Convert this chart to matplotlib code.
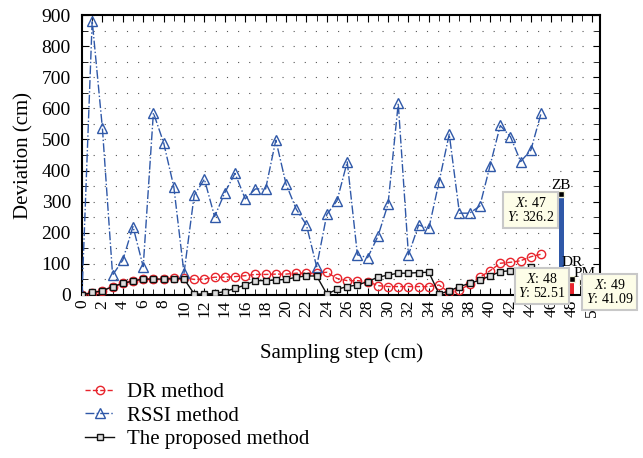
import matplotlib
matplotlib.use('Agg')
import matplotlib.pyplot as plt
import numpy as np

plt.rcParams['font.family'] = ['Liberation Serif', 'DejaVu Serif']
plt.rcParams['mathtext.fontset'] = 'custom'
plt.rcParams['mathtext.rm'] = 'Liberation Serif'
plt.rcParams['mathtext.it'] = 'Liberation Serif:italic'

# 데이터
rssi = [0, 882, 537, 64, 112, 220, 91, 586, 490, 348, 70,
        321, 372, 252, 329, 391, 309, 341, 341, 498, 357,
        276, 225, 91, 259, 303, 428, 129, 120, 188, 292,
        616, 129, 225, 214, 364, 517, 263, 263, 286, 416,
        545, 509, 429, 466, 584]
dr = [0, 6, 14, 27, 37, 45, 51, 51, 51, 55, 55,
      50, 51, 57, 57, 59, 62, 66, 66, 67, 67,
      70, 70, 70, 73, 53, 46, 46, 43, 30, 27,
      27, 27, 27, 27, 32, 8, 16, 34, 57, 78,
      102, 105, 110, 123, 131]
prop = [0, 8, 13, 27, 37, 45, 51, 51, 51, 52, 52,
        3, 3, 5, 11, 21, 32, 46, 46, 48, 50,
        57, 61, 61, 3, 18, 27, 32, 43, 57, 64,
        70, 70, 72, 73, 3, 13, 27, 37, 48, 61,
        75, 78, 80, 89]
bar_x = [47, 48, 49]
bar_y = [326.2, 52.51, 41.09]
bar_names = ['ZB', 'DR', 'PM']
bar_colors = ['#2f58a8', '#e8242c', '#111111']

fig = plt.figure(figsize=(6.43, 4.58), dpi=100)
ax = fig.add_axes([0.1275, 0.356, 0.806, 0.611])

ax.plot(range(len(dr)), dr, '--', color='#e8242c', marker='o', mfc='none',
        ms=6, lw=1, label='DR method', zorder=3)
ax.plot(range(len(rssi)), rssi, '-.', color='#2f58a8', marker='^', mfc='none',
        ms=7, lw=1, label='RSSI method', zorder=3)
ax.plot(range(len(prop)), prop, '-', color='#111111', marker='s', mfc='#dddddd',
        ms=5, lw=1, label='The proposed method', zorder=4)

ax.bar(bar_x, bar_y, width=[0.55, 0.42, 0.42], color=bar_colors, zorder=2)
ax.plot(bar_x, bar_y, 's', color='black', ms=4, mec='#f5f5dc', zorder=5, clip_on=False)

# 데이터팁 라벨
label_off = [(0, 4), (0, 32), (0.3, 7)]
for x, y, n, (dx, dy) in zip(bar_x, bar_y, bar_names, label_off):
    ax.text(x + dx, y + dy, n, fontsize=11, ha='center', va='bottom', zorder=6)

box = dict(boxstyle='square,pad=0.25', fc='#fdfde8', ec='#c8c8c8', lw=1.5)
tip_pos = [(46.3, 273, 'right'), (47.4, 29, 'right'), (49.4, 10, 'left')]
for x, y, (tx, ty, ha) in zip(bar_x, bar_y, tip_pos):
    ax.text(tx, ty, '$X$: %d\n$Y$: %s' % (x, ('%.2f' % y).rstrip('0')),
            fontsize=10, ha=ha, va='center', linespacing=1.05, multialignment='center',
            bbox=box, zorder=7, clip_on=False)

ax.set_xlim(0, 50.8)
ax.set_ylim(0, 900)
ax.set_xticks(range(0, 51, 2))
ax.set_xticks(range(0, 51, 1), minor=True)
ax.set_yticks(range(0, 901, 100))
ax.set_yticks(range(0, 901, 50), minor=True)
ax.tick_params(axis='x', labelrotation=90, labelsize=12.5, direction='in',
               top=True, which='both', length=4)
ax.tick_params(axis='y', labelsize=14, direction='in', right=True, which='both',
               length=4, pad=8)
ax.tick_params(which='major', length=5)
ax.grid(which='both', axis='y', linestyle=(0, (1, 9)), color='#555555', lw=0.8)
for s in ax.spines.values():
    s.set_linewidth(1.5)

ax.set_xlabel('Sampling step (cm)', fontsize=15, labelpad=19)
ax.set_ylabel('Deviation (cm)', fontsize=15, labelpad=6)

fig.legend(loc='upper left', bbox_to_anchor=(0.103, 0.206), frameon=False,
           fontsize=15, handlelength=1.4, handletextpad=0.6, labelspacing=0.2)

fig.savefig('out.png', dpi=100)
